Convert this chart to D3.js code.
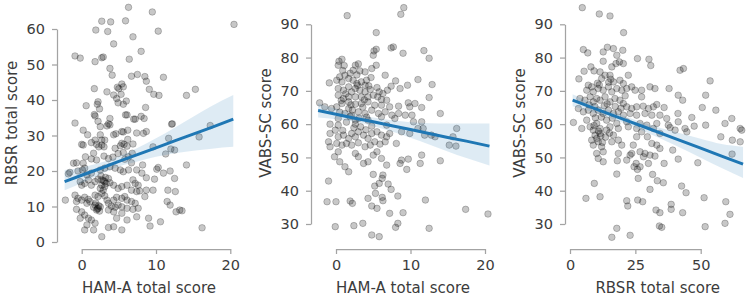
<!DOCTYPE html>
<html>
<head>
<meta charset="utf-8">
<script src="https://cdn.jsdelivr.net/npm/d3@7"></script>
<style>
  body { margin: 0; background: #fff; }
  svg { display: block; font-family: "DejaVu Sans", sans-serif; }
</style>
</head>
<body>
<div id="chart"></div>
<script>
// HAM-A total score vs RBSR total score
const hamRbsr = [
  [6.3,66.1],[9.5,64.8],[2.7,62.2],[3.9,62],[5.9,62.3],[20.5,61.3],[1.9,59.7],[3.5,59.3],[10.3,59.4],[6.9,57.8],
  [4.3,55.8],[8.0,53.7],[-0.9,52.4],[-0.2,51.8],[1.8,50.8],[2.7,51.9],[2.9,52.1],[6.4,51.5],[3.8,48.9],[4.1,47],
  [6.7,46.7],[7.5,47.2],[8.5,46.6],[8.7,45.3],[11.0,46.4],[5.4,44.5],[5.6,43.7],[5.0,43.2],[4.8,43.6],[1.7,43.2],
  [3.4,42.3],[9.1,43],[9.7,41.6],[10.4,41.3],[15.3,43],[14.1,41.3],[4.3,41.4],[4.7,40.4],[5.3,41.6],[4.9,39.2],
  [5.6,38.8],[6.0,39.7],[2.2,39.5],[2.1,38.8],[2.4,37.5],[0.6,38.4],[8.6,37.9],[1.7,35.9],[1.8,35.5],[3.8,34.8],
  [3.6,33.3],[5.9,35.8],[6.1,35.8],[7.0,34.6],[7.2,34.6],[8.0,35.4],[8.4,34.8],[-0.9,33.5],[2.2,34],[2.5,32.5],
  [12.2,33.3],[3.4,32.7],[3.8,33],[0.2,31.5],[0.8,30.2],[0,27.5],[0.2,27.3],[1.8,28.7],[2.0,27.5],[2.3,26.8],
  [2.5,30.2],[2.7,28.7],[4.3,30.2],[4.6,30.5],[5.4,31.1],[5.6,31],[6.2,31.5],[6.2,28.9],[5.7,27.5],[5.2,27.1],
  [7.4,30.7],[6.9,27.6],[8.3,30.6],[8.7,31.1],[3.0,26.8],[4.5,26.4],[12.1,33.2],[17.3,32.8],[15.8,29.6],[11.7,29.2],
  [9.6,26.8],[12.0,26.2],[12.5,25.9],[1.3,28],[2.7,27.3],[3.1,28.7],[5.4,27.8],[6.1,27],[11.3,24.8],[-1.1,22.2],
  [-0.7,22.3],[0.2,22.2],[0.5,24],[1.6,25],[1.3,23.4],[2.0,23.1],[3.0,24.2],[3.6,23.5],[4.2,23.9],[4.9,24.9],
  [5.6,25.2],[5.8,23.3],[6.3,24],[6.8,25],[8.2,21.7],[6.7,22.3],[10.1,20.5],[10.3,21],[14.1,21.7],[11.0,19.4],
  [11.9,20],[12.5,17.9],[-1.6,19.6],[-1.8,19.2],[-0.5,20],[0.1,20.3],[0.4,20.8],[0.7,18.9],[1.3,19.4],[2.5,20.3],
  [3.1,20.8],[3.8,21.2],[4.5,20.8],[5.2,20.3],[5.6,19.8],[6.3,20.3],[7.4,20.3],[8.1,19.4],[8.7,18.1],[9.8,17.7],
  [11.6,14.6],[12.6,14.2],[11.5,11.4],[11.9,10.4],[12.7,8.5],[13.2,9],[13.5,8.8],[16.2,4.0],[-2.2,11.8],[-0.2,17],
  [0,16],[0.4,16.5],[0.9,17.5],[1.3,16],[1.8,17],[2.2,17.7],[2.7,17.5],[3.1,17],[3.6,17.9],[3.8,16.7],
  [2.7,16],[3.1,15.6],[2.9,14.6],[2.5,15.1],[4.3,16],[4.9,15.1],[5.4,15.6],[6.1,16],[6.9,17.5],[7.2,16.5],
  [7.6,16],[6.7,14.6],[7.4,14.2],[7.8,14.4],[8.7,14.6],[8.5,12.8],[9.6,14.6],[5.8,12.8],[5.4,12.3],[4.7,12.6],
  [4.3,11.8],[-0.9,13.2],[-0.5,12.3],[-0.7,11.4],[0,11.8],[0.4,12.6],[0.9,12],[0.7,10.9],[1.1,11.4],[1.8,13.2],
  [2.2,12.8],[2.7,13.7],[3.1,13],[3.4,11.8],[1.8,10.4],[2.2,9.5],[2.5,9.9],[2.0,9],[1.6,9.8],[3.6,10.9],
  [4.0,10.1],[4.5,9.8],[4.9,10.4],[5.4,9.9],[4.3,8.5],[3.6,9],[6.1,11.8],[6.7,11.4],[7.2,10.9],[7.6,9.5],
  [6.9,9.2],[6.1,9.5],[-0.7,9.2],[0,8.5],[0.4,7.6],[-0.2,6.7],[0.9,6.7],[1.3,6.2],[1.8,5.3],[0.7,4.8],
  [0.4,3.4],[1.6,3.4],[2.7,1.5],[3.6,4.1],[4.3,4.3],[5.4,3.4],[4.7,6.7],[5.4,8.1],[6.1,6.2],[7.4,7.1],
  [9.0,6.7],[9.2,4.5],[10.6,5.7],[2.1,9.3],[2.3,10.2],[1.9,11.0],[2.4,8.7],[3.3,16.5],[2.9,17.3],[3.2,18.2],
  [2.6,18.6]
];

// HAM-A total score vs VABS-SC score
const hamVabs = [
  [9.1,95],[8.7,93],[1.5,92.6],[5.4,87.5],[7.4,82.9],[7.7,83.2],[5.1,82],[5.4,82.5],[5.0,80.7],[9.0,81.3],
  [11.8,82.1],[12.5,79.8],[0.4,78.9],[0.8,79.5],[0.3,77.7],[1.1,77.6],[2.6,77.7],[3.0,78.1],[3.2,76],[3.9,75.7],
  [2.3,76.2],[4.8,76.7],[5.4,77.7],[0.5,74.2],[1.2,74.7],[1.7,73.7],[0.8,72.7],[0.1,73.2],[2.3,73.2],[2.8,72.2],
  [3.4,72.7],[4.1,73.2],[4.7,74],[3.9,71.7],[6.6,74.7],[8.0,73],[7.4,71.4],[6.9,70.2],[8.6,70.7],[9.6,71.7],
  [11.0,73.4],[12.9,71.9],[12.5,68],[-0.9,72.4],[5.5,71],[5.8,69.7],[6.3,69.2],[5.6,68.2],[6.1,67.4],[6.8,67.2],
  [0.3,70.7],[1.0,70.2],[1.7,71.2],[2.1,69.7],[2.6,70.7],[3.2,70.2],[3.9,69.7],[4.6,70.4],[5.0,68.7],[4.3,68.2],
  [3.4,68.2],[2.6,68.2],[1.7,68.2],[1.0,67.7],[0.3,68.7],[-2.2,66.4],[-1.5,65.2],[-0.6,64.7],[0.1,65.2],[0.8,66.2],
  [1.7,66.7],[2.6,66],[3.4,66.2],[4.3,66.7],[5.2,65.7],[6.1,65.7],[7.2,65.2],[8.4,65.4],[9.7,66.4],[10.6,66.2],
  [11.5,65],[9.9,65.2],[14.0,63.2],[1.7,64.7],[1.2,63.2],[2.1,62.7],[3.0,63.7],[3.9,63.2],[4.8,64.2],[5.7,63.2],
  [6.6,63.7],[7.5,62.7],[8.4,63.2],[9.3,62.7],[0.3,61.7],[2.6,61.2],[4.3,61.2],[6.1,62.2],[7.9,61.7],[10.2,62.7],
  [10.4,60.7],[11.5,60.7],[-0.8,60],[0.3,59.7],[2.6,60],[4.8,59.4],[6.8,59.7],[11.0,58.7],[11.7,58.7],[16.2,58.7],
  [15.7,56.2],[15.2,53.7],[13.3,56.2],[14.0,49],[11.5,50.7],[11.3,48.2],[9.7,49.5],[9.5,46.4],[8.8,49.2],[8.6,48.2],
  [11.9,56.7],[9.9,57.2],[8.8,57.7],[8.1,54.2],[-0.8,57.2],[-0.1,58.2],[0.3,56.2],[1.0,56.7],[1.7,55.7],[2.1,57.2],
  [2.6,56.2],[3.0,57.7],[3.7,56.7],[4.3,55.7],[4.8,57.2],[5.5,57.7],[6.1,56.7],[6.8,56.2],[7.2,57.2],[-1.0,54.7],
  [-0.8,53.2],[0.1,54.2],[0.8,53.7],[1.4,54.2],[2.1,53.7],[3.0,54.4],[3.9,53.2],[4.6,53.7],[5.2,54.7],[5.9,54],
  [6.6,54.7],[-0.2,50.2],[0.3,51.7],[0.5,48.7],[1.2,47.2],[1.7,45.7],[2.6,51.2],[3.0,50.2],[3.7,48.2],[4.3,48.7],
  [5.0,50.7],[5.5,51.7],[6.1,49.7],[6.8,47.7],[5.0,44.9],[5.2,41.4],[6.3,44.7],[6.2,43.7],[5.8,42.2],[7.0,42],
  [7.4,40.4],[5.3,39.2],[4.3,37.7],[6.2,38],[6.3,37],[4.8,35.4],[5.5,34.7],[7.2,33.2],[9.0,33.4],[8.3,38.4],
  [12.0,37.2],[-1.0,42.9],[-1.2,36.7],[0,36.7],[1.9,36.9],[2.2,36.2],[-0.1,29.2],[2.4,29.5],[3.6,30.2],[4.8,26.7],
  [5.8,26.2],[8.0,29],[8.3,30.2],[12.5,28.7],[17.4,34.4],[20.4,33],[12.8,56.7],[16.1,53.4],[1.3,69.1],[2.9,71.6],
  [0.7,67.1],[3.6,65.1],[2.2,64.2],[4.1,62.1],[1.4,60.6],[3.3,59.2],[0.9,58.1],[2.4,58.9],[4.0,58.3],[1.9,62.3],
  [0.5,63.6],[3.1,61.8],[2.8,74.8],[1.9,75.3],[4.4,71.5],[0.9,76.1],[2.0,65.8],[3.8,67.3]
];

// RBSR total score vs VABS-SC score
const rbsrVabs = [
  [4.7,95],[11.2,93.1],[15.3,92.5],[20.5,87.5],[5.1,82.4],[6.8,81.4],[12.7,81.7],[14.3,83.1],[16.6,82.7],[20.2,82.2],
  [17.9,80.7],[18.9,78.7],[12.7,78.9],[17.6,78.2],[16,77.2],[20.4,78.2],[25.8,79.7],[30.2,79.5],[30.9,77.6],[8.0,77.2],
  [9.2,76],[5.4,75.9],[3.4,73.6],[11.5,75.7],[12.1,73.7],[13.4,74.7],[15.3,74.7],[16.6,72.7],[19.1,73.2],[22.3,74.7],
  [20.4,72.2],[42.1,76.2],[43.4,76.7],[53.6,73],[7.0,71.7],[8.3,71.2],[6.4,70.2],[8.9,69.7],[10.8,70.7],[12.7,70.2],
  [14.7,71.2],[16,69.7],[17.9,70.7],[19.8,70.2],[21.7,70.7],[23.6,71.2],[24.9,70.2],[27.4,70.2],[30.6,71.2],[32.5,70.7],
  [27.4,68.2],[37.9,70.7],[41.4,68.7],[43.1,67.2],[51.9,68.7],[55.8,64.2],[50.6,65],[61.9,61.7],[41.3,63.2],[46.6,62],
  [36,65],[33.2,65.9],[3.8,67.7],[5.7,67.2],[7.7,68.2],[8.9,66.7],[10.2,67.7],[11.5,67.2],[13.4,68.2],[15.3,66.7],
  [17.2,67.7],[19.1,67.2],[20.4,66.2],[21.7,65.2],[23.6,64.7],[25.5,65.2],[28,65.4],[30,64.7],[31.9,65.2],[3.2,64.7],
  [5.1,63.7],[7.0,64.2],[8.9,63.2],[10.8,64.2],[12.7,63.2],[14.7,64.2],[16.6,63.2],[18.5,63.7],[20.4,62.7],[23,63.2],
  [25.5,62.7],[28.7,63.2],[31.3,62.7],[34.4,62.7],[37,61.7],[1.3,60.5],[6.4,61.2],[10.2,60.2],[14,61.2],[17.9,60.2],
  [21.7,60.7],[26.8,60.2],[29.4,59.7],[33.2,60.2],[37.6,59.7],[41.4,60.7],[4.5,58.7],[7.7,59.2],[11.5,58.7],[15.3,59.2],
  [18.5,58.7],[22.3,59.2],[25.5,58.7],[31.9,58.7],[38.3,59],[44,58.7],[47.5,59.4],[51.9,59.7],[59.3,60.2],[65.1,58.7],
  [65.7,58.2],[65.1,54.7],[62.1,55.2],[57.7,56.2],[62,51],[44.7,57.7],[40.2,58.2],[34.4,57.2],[41.4,49.5],[48.9,48.4],
  [39.3,52.2],[33.2,53.7],[31.3,54.2],[29.6,56.2],[34.4,52.7],[27.4,57.7],[25.5,56.2],[8.9,58.2],[9.6,56.7],[10.2,55.7],
  [8.3,55.2],[10.8,54.7],[11.5,57.2],[8.9,53.7],[12.1,53.2],[12.7,51.7],[10.2,51.2],[10.8,49.7],[12.7,48.7],[14,58.2],
  [16.6,56.7],[16,54.7],[18.5,55.2],[19.8,53.7],[18.5,51.2],[21.7,49.2],[24.2,53.7],[23.6,51.2],[23,50.7],[26.8,51.7],
  [28.7,51.2],[28.1,50.2],[30.6,50.7],[32.5,50.4],[30,48.2],[25.3,48.2],[24.5,47.2],[25.8,46.4],[26.8,47.2],[18.1,49],
  [36,48.2],[17.9,45],[26.1,43.7],[30.6,40.4],[31.6,44.9],[33.4,43],[35.7,42.4],[42.7,41.4],[44.4,39.4],[51.3,37.9],
  [59.6,36.7],[9.3,42.2],[11.5,38.2],[6.1,37.7],[21.7,37],[22.1,35.4],[25.9,37.2],[27.8,36.7],[32.9,34.2],[34.4,33.4],
  [38.7,35.9],[38.7,34.4],[43.1,33.4],[61.2,32.9],[59.3,30.2],[51.7,29.2],[34.2,29.4],[35.1,29],[17.9,28.7],[16,26],
  [23,26.6],[10.5,72.3],[11.2,71.8],[14.8,72.6],[15.6,73.5],[13.1,65.5],[14.2,66.1],[9.5,65.3],[12.0,62.1],[16.2,61.8],
  [9.7,61.9],[11.8,56.5],[10.9,57.9],[9.2,59.6],[13.6,56.1],[12.4,54.5],[15.1,57.3],[17.3,65.3],[19.5,64.8],[21.1,68.5],
  [7.3,65.8]
];

// regression fit and confidence band: [x, fit, lower, upper]
const bandHamRbsr = [
  [-2.3,17.0,14.6,20.3],[0,18.8,16.6,21.0],[2.5,20.7,19.1,22.3],[5,22.7,21.3,24.1],[7.5,24.6,22.7,26.5],
  [10,26.5,24.0,29.2],[12.5,28.5,25.0,32.2],[15,30.4,25.7,35.3],[17.5,32.3,26.3,38.3],[20.4,34.6,26.8,41.4]
];
const bandHamVabs = [
  [-2.4,64.1,62.0,66.3],[0,63.0,61.5,64.6],[2.5,61.8,60.7,63.0],[5,60.7,59.4,62.0],[7.5,59.5,57.8,61.2],
  [10,58.4,55.9,60.6],[12.5,57.2,53.9,60.3],[15,56.0,51.8,60.2],[17.5,54.9,49.8,60.2],[20.6,53.4,47.6,60.2]
];
const bandRbsrVabs = [
  [1,67.2,65.4,69.0],[10,64.5,63.3,65.8],[20,61.6,60.5,62.7],[30,58.7,57.3,60.0],
  [40,55.7,53.7,57.7],[50,52.8,49.9,55.6],[58,50.4,46.8,54.0],[66.2,48.0,43.8,53.2]
];

const ticksRbsr = [0, 10, 20, 30, 40, 50, 60];
const ticksVabs = [30, 40, 50, 60, 70, 80, 90];
const ticksHam = [0, 10, 20];
const ticksRbsrX = [0, 25, 50];

const xLabels = ['HAM-A total score', 'HAM-A total score', 'RBSR total score'];
const yLabels = ['RBSR total score', 'VABS-SC score', 'VABS-SC score'];

const width = 750, height = 299;
const ink = '#3c3c3c';
const spine = '#a3a3a3';
const blue = '#1f77b4';

const svg = d3.select('#chart').append('svg')
  .attr('width', width)
  .attr('height', height);

const panels = [
  { points: hamRbsr, band: bandHamRbsr, xTicks: ticksHam, yTicks: ticksRbsr,
    x: d3.scaleLinear().domain([0, 20]).range([81.7, 230.3]),
    y: d3.scaleLinear().domain([0, 60]).range([242, 29]),
    left: 57, xLabelX: 149, yLabelX: 17 },
  { points: hamVabs, band: bandHamVabs, xTicks: ticksHam, yTicks: ticksVabs,
    x: d3.scaleLinear().domain([0, 20]).range([336, 485]),
    y: d3.scaleLinear().domain([30, 90]).range([224, 24.3]),
    left: 311, xLabelX: 403, yLabelX: 270.5 },
  { points: rbsrVabs, band: bandRbsrVabs, xTicks: ticksRbsrX, yTicks: ticksVabs,
    x: d3.scaleLinear().domain([0, 50]).range([570, 700.7]),
    y: d3.scaleLinear().domain([30, 90]).range([224, 24.3]),
    left: 565, xLabelX: 657.7, yLabelX: 525 },
];
const bottom = 249;

panels.forEach((p, i) => {
  const g = svg.append('g').attr('class', `panel-${i}`);

  // scatter first, then band and line on top (regplot order)
  g.append('g')
    .selectAll('circle')
    .data(p.points)
    .join('circle')
    .attr('cx', d => p.x(d[0]))
    .attr('cy', d => p.y(d[1]))
    .attr('r', 3.3)
    .attr('fill', '#000')
    .attr('fill-opacity', 0.22)
    .attr('stroke', '#000')
    .attr('stroke-opacity', 0.22)
    .attr('stroke-width', 1);

  const area = d3.area()
    .x(d => p.x(d[0]))
    .y0(d => p.y(d[2]))
    .y1(d => p.y(d[3]))
    .curve(d3.curveMonotoneX);

  g.append('path')
    .datum(p.band)
    .attr('d', area)
    .attr('fill', blue)
    .attr('fill-opacity', 0.15);

  const line = d3.line()
    .x(d => p.x(d[0]))
    .y(d => p.y(d[1]));

  g.append('path')
    .datum(p.band)
    .attr('d', line)
    .attr('fill', 'none')
    .attr('stroke', blue)
    .attr('stroke-width', 3);

  // axes, trimmed to the outer ticks
  const yAxis = g.append('g')
    .attr('transform', `translate(${p.left},0)`)
    .call(d3.axisLeft(p.y).tickValues(p.yTicks).tickSize(5).tickSizeOuter(0).tickPadding(7));

  const xAxis = g.append('g')
    .attr('transform', `translate(0,${bottom})`)
    .call(d3.axisBottom(p.x).tickValues(p.xTicks).tickSize(5).tickSizeOuter(0).tickPadding(6));

  [yAxis, xAxis].forEach(ax => {
    ax.select('.domain').attr('stroke', spine).attr('stroke-width', 1.25);
    ax.selectAll('.tick line').attr('stroke', spine).attr('stroke-width', 1.25);
    ax.selectAll('.tick text')
      .attr('fill', ink)
      .style('font-size', '14.5px')
      .style('font-family', '"DejaVu Sans", sans-serif');
  });

  g.append('text')
    .attr('x', p.xLabelX)
    .attr('y', 292.7)
    .attr('text-anchor', 'middle')
    .attr('fill', ink)
    .style('font-size', '15px')
    .text(xLabels[i]);

  g.append('text')
    .attr('transform', `translate(${p.yLabelX},123) rotate(-90)`)
    .attr('text-anchor', 'middle')
    .attr('fill', ink)
    .style('font-size', '15px')
    .text(yLabels[i]);
});
</script>
</body>
</html>
